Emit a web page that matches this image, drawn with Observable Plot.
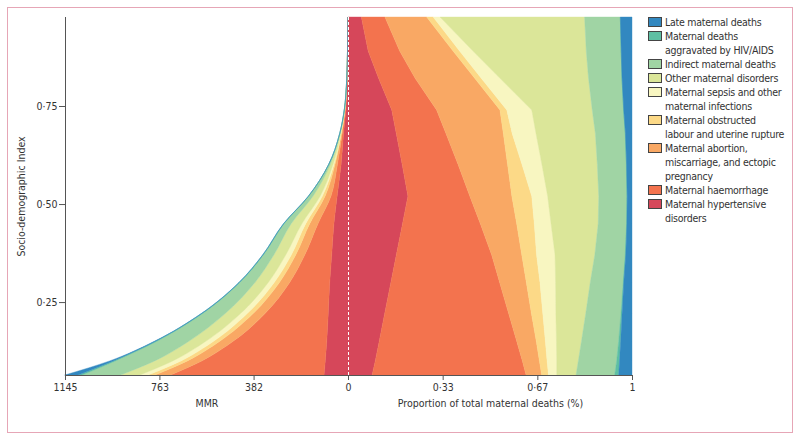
<!DOCTYPE html>
<html><head><meta charset="utf-8">
<script src="https://cdn.jsdelivr.net/npm/d3@7"></script>
<script src="https://cdn.jsdelivr.net/npm/@observablehq/plot@0.6"></script>
<style>
html,body{margin:0;padding:0;background:#fff;}
#wrap{position:relative;width:800px;height:440px;overflow:hidden;font-family:"DejaVu Sans Condensed","Liberation Sans Narrow","Roboto",sans-serif;}
#frame{position:absolute;left:7px;top:7px;width:786px;height:426px;border:1px solid #e6a6b6;box-sizing:border-box;}
.layer{position:absolute;left:0;top:0;}
#legend{position:absolute;left:648px;top:15px;font-size:10.5px;line-height:14px;color:#333;letter-spacing:-0.25px;}
.item{position:relative;padding-left:17px;white-space:nowrap;}
.sw{position:absolute;left:0;top:2px;width:14px;height:10px;border:1px solid #444;box-sizing:border-box;}
</style></head>
<body><div id="wrap"><div id="frame"></div></div>
<script>
// ---- categories (stack order: innermost first) ----
const causes = [
  "Maternal hypertensive disorders",
  "Maternal haemorrhage",
  "Maternal abortion, miscarriage, and ectopic pregnancy",
  "Maternal obstructed labour and uterine rupture",
  "Maternal sepsis and other maternal infections",
  "Other maternal disorders",
  "Indirect maternal deaths",
  "Maternal deaths aggravated by HIV/AIDS",
  "Late maternal deaths"
];
const colors = ["#d6475a","#f3734e","#f9a864","#fcd987","#f8f6c1","#dbe699","#a0d4a4","#5ebfa3","#3288c0"];
const legendLines = [
  ["Late maternal deaths"],
  ["Maternal deaths","aggravated by HIV/AIDS"],
  ["Indirect maternal deaths"],
  ["Other maternal disorders"],
  ["Maternal sepsis and other","maternal infections"],
  ["Maternal obstructed","labour and uterine rupture"],
  ["Maternal abortion,","miscarriage, and ectopic","pregnancy"],
  ["Maternal haemorrhage"],
  ["Maternal hypertensive","disorders"]
];

// ---- Socio-demographic Index sample points ----
const sdi = [0.064, 0.10, 0.15, 0.22, 0.30, 0.37, 0.45, 0.52, 0.60, 0.68, 0.74, 0.82, 0.89, 0.977];

// ---- proportion of total maternal deaths (right panel) ----
const shareHypertensive = [.085,.096,.110,.129,.151,.170,.192,.211,.191,.170,.154,.108,.071,.047];
const shareHaemorrhage  = [.542,.518,.484,.437,.383,.336,.274,.218,.197,.175,.158,.129,.111,.083];
const shareAbortion     = [.055,.060,.069,.080,.094,.106,.128,.148,.174,.202,.223,.210,.188,.147];
const shareObstructed   = [.024,.027,.032,.040,.048,.052,.062,.070,.051,.031,.024,.023,.023,.023];
const shareSepsis       = [.029,.034,.039,.046,.055,.065,.059,.056,.070,.084,.088,.066,.047,.024];
const shareOther        = [.068,.076,.088,.105,.122,.140,.166,.180,.195,.209,.213,.311,.399,.509];
const shareIndirect     = [.136,.135,.131,.124,.116,.107,.100,.099,.102,.105,.110,.118,.123,.126];
const shareHIV          = [.014,.010,.007,.004,.002,.002,.001,.001,.001,.001,.001,0,0,0];
const shareLate         = [.047,.044,.040,.035,.029,.022,.018,.017,.019,.023,.029,.035,.038,.041];

// ---- MMR by cause (left panel) ----
const mmrHypertensive = [97,92,86,80,74,66,57,44,28,18,9,3.2,1.3,0.33];
const mmrHaemorrhage  = [621,500,379,257,162,109,64.5,25,15,5.5,2.4,0.7,0.3,0.07];
const mmrAbortion     = [63,58,54,48,41.5,36.6,33.4,23.7,10,3.5,1.4,0.4,0.15,0.04];
const mmrObstructed   = [27.5,26,25,24,21,18,16.2,11.2,4,1,0.3,0.1,0.03,0.01];
const mmrSepsis       = [33,33,31,27,24,22.4,15.4,9,4,1.2,0.5,0.15,0.05,0.01];
const mmrOther        = [78,73,69,62,54,48.3,43.3,28.8,11,2.6,1,0.3,0.12,0.03];
const mmrIndirect     = [156,159,129.5,92,61,42.3,28.7,17.5,6.6,1.65,0.4,0.15,0.05,0.01];
const mmrHIV          = [16,9,6,4,3,2.5,2,1,0.3,0,0,0,0,0];
const mmrLate         = [54,14,4,1.5,0.8,0.5,0.3,0.2,0.1,0.05,0,0,0,0];

// ---- tick values ----
const yTicks = [0.25, 0.50, 0.75];
const mmrTicks = [1145, 763, 382];
const propTicks = [0, 1/3, 2/3, 1];
const propTickLabels = ["0", "0·33", "0·67", "1"];

const shareSeries = [shareHypertensive,shareHaemorrhage,shareAbortion,shareObstructed,shareSepsis,shareOther,shareIndirect,shareHIV,shareLate];
const mmrSeries = [mmrHypertensive,mmrHaemorrhage,mmrAbortion,mmrObstructed,mmrSepsis,mmrOther,mmrIndirect,mmrHIV,mmrLate];
const shareRows = [], mmrRows = [];
causes.forEach((c, i) => sdi.forEach((s, j) => {
  shareRows.push({cause: c, sdi: s, value: shareSeries[i][j]});
  mmrRows.push({cause: c, sdi: s, value: mmrSeries[i][j]});
}));

const W = 800, H = 440, MT = 17, MB = 65;
const yDom = [sdi[0], sdi[sdi.length - 1]];
const font = '"DejaVu Sans Condensed","Liberation Sans Narrow","Roboto",sans-serif';
const style = {background: "transparent", fontFamily: font, fontSize: "10.5px", color: "#333", overflow: "visible"};
const colorScale = {domain: causes, range: colors};
const dot = d => d3.format(".2f")(d).replace(".", "·");

const left = Plot.plot({
  width: W, height: H, marginTop: MT, marginBottom: MB, marginLeft: 65, marginRight: W - 348,
  style,
  x: {domain: [1145, 0]},
  y: {domain: yDom},
  color: colorScale,
  marks: [
    Plot.areaX(mmrRows, Plot.stackX({y: "sdi", x: "value", fill: "cause", stroke: "cause", strokeWidth: 0.4, order: causes, curve: "monotone-y"})),
    Plot.ruleX([1145], {y1: yDom[0], y2: yDom[1], stroke: "#555"}),
    Plot.ruleY([yDom[0]], {x1: 1145, x2: 0, stroke: "#555"}),
    Plot.axisY(yTicks, {tickFormat: dot, tickSize: 6, tickPadding: 2, stroke: "#555", label: "Socio-demographic Index", labelAnchor: "center", labelArrow: "none", labelOffset: 48}),
    Plot.axisX(mmrTicks, {tickFormat: d => String(d), tickSize: 5, tickPadding: 3, stroke: "#555", label: "MMR", labelAnchor: "center", labelArrow: "none", labelOffset: 31})
  ]
});

const right = Plot.plot({
  width: W, height: H, marginTop: MT, marginBottom: MB, marginLeft: 348, marginRight: W - 632,
  style,
  x: {domain: [0, 1]},
  y: {domain: yDom, axis: null},
  color: colorScale,
  marks: [
    Plot.areaX(shareRows, Plot.stackX({y: "sdi", x: "value", fill: "cause", stroke: "cause", strokeWidth: 0.4, order: causes, offset: "normalize"})),
    Plot.ruleX([0], {y1: yDom[0], y2: yDom[1], stroke: "white", strokeDasharray: "3,2", strokeWidth: 1}),
    Plot.ruleY([yDom[0]], {x1: 0, x2: 1, stroke: "#555"}),
    Plot.axisX(propTicks, {tickFormat: (d, i) => propTickLabels[i], tickSize: 5, tickPadding: 3, stroke: "#555", label: "Proportion of total maternal deaths (%)", labelAnchor: "center", labelArrow: "none", labelOffset: 31})
  ]
});

const wrap = document.getElementById("wrap");
left.classList.add("layer"); right.classList.add("layer");
left.style.position = "absolute"; right.style.position = "absolute";
wrap.appendChild(left); wrap.appendChild(right);

const legend = document.createElement("div");
legend.id = "legend";
const legendOrder = causes.slice().reverse();
legendOrder.forEach((c, i) => {
  const item = document.createElement("div");
  item.className = "item";
  const sw = document.createElement("span");
  sw.className = "sw";
  sw.style.background = colors[causes.indexOf(c)];
  item.appendChild(sw);
  legendLines[i].forEach(t => { const l = document.createElement("div"); l.textContent = t; item.appendChild(l); });
  legend.appendChild(item);
});
wrap.appendChild(legend);
</script></body></html>
